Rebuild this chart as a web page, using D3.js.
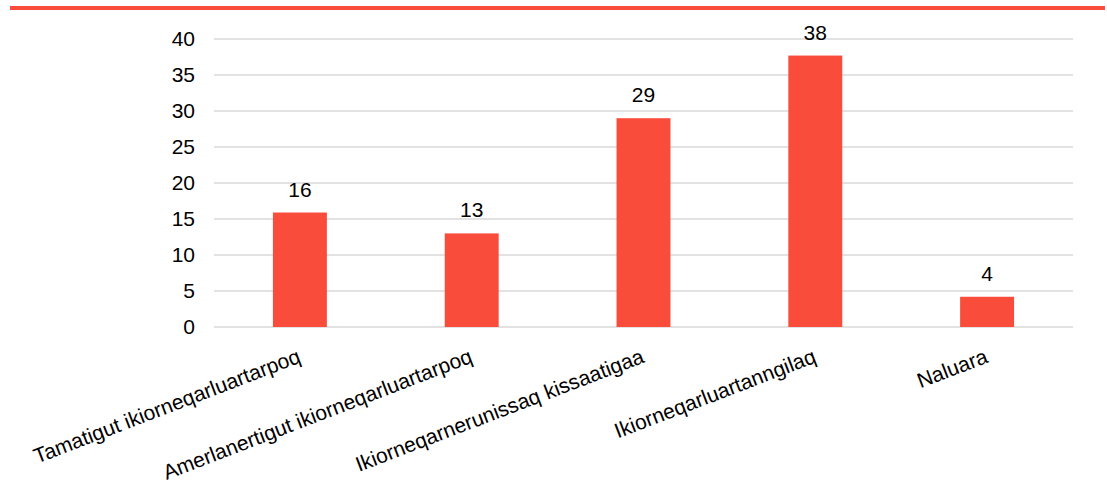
<!DOCTYPE html>
<html>
<head>
<meta charset="utf-8">
<script src="https://cdn.jsdelivr.net/npm/d3@7"></script>
<style>
  html, body { margin: 0; padding: 0; background: #fff; }
  svg { display: block; }
  text { font-family: "Liberation Sans", Arial, sans-serif; fill: #000; }
</style>
</head>
<body>
<svg id="chart" width="1107" height="494"></svg>
<script>
const categories = [
  "Tamatigut ikiorneqarluartarpoq",
  "Amerlanertigut ikiorneqarluartarpoq",
  "Ikiorneqarnerunissaq kissaatigaa",
  "Ikiorneqarluartanngilaq",
  "Naluara"
];
const values = [15.9, 13.0, 29.0, 37.7, 4.2];
const valueLabels = ["16", "13", "29", "38", "4"];
const yTicks = [0, 5, 10, 15, 20, 25, 30, 35, 40];

const svg = d3.select("#chart");
const W = 1107, H = 494;
const margin = { left: 214, right: 34, top: 39, bottom: 167 };
const plotW = W - margin.left - margin.right;
const plotH = H - margin.top - margin.bottom;
const barColor = "#F94C3B";
const fs = 21;

// top accent line
svg.append("rect")
  .attr("x", 10).attr("y", 6).attr("width", 1095).attr("height", 4)
  .attr("fill", barColor);

const g = svg.append("g").attr("transform", `translate(${margin.left},${margin.top})`);

const x = d3.scaleBand().domain(categories).range([0, plotW]).paddingInner(0.686).paddingOuter(0.343);
const y = d3.scaleLinear().domain([0, 40]).range([plotH, 0]);

// gridlines
g.append("g")
  .selectAll("line")
  .data(yTicks)
  .join("line")
  .attr("x1", 0).attr("x2", plotW)
  .attr("y1", d => y(d)).attr("y2", d => y(d))
  .attr("stroke", "#d9d9d9").attr("stroke-width", 1.5);

// y axis labels
const yAxis = d3.axisLeft(y).tickValues(yTicks).tickSize(0).tickPadding(19);
const ya = g.append("g").call(yAxis);
ya.select(".domain").remove();
ya.selectAll("text")
  .attr("font-size", fs)
  .attr("font-family", "Liberation Sans, Arial, sans-serif")
  .attr("fill", "#000");

const data = categories.map((c, i) => ({ c, v: values[i], l: valueLabels[i] }));

// bars
g.append("g")
  .selectAll("rect")
  .data(data)
  .join("rect")
  .attr("x", d => x(d.c))
  .attr("width", x.bandwidth())
  .attr("y", d => y(d.v))
  .attr("height", d => plotH - y(d.v))
  .attr("fill", barColor);

// value labels
g.append("g")
  .selectAll("text")
  .data(data)
  .join("text")
  .attr("x", d => x(d.c) + x.bandwidth() / 2)
  .attr("y", d => y(d.v) - 16)
  .attr("text-anchor", "middle")
  .attr("font-size", fs)
  .text(d => d.l);

// x labels (rotated)
const xAxis = d3.axisBottom(x).tickSize(0).tickPadding(0);
const xa = g.append("g").attr("transform", `translate(0,${plotH})`).call(xAxis);
xa.select(".domain").remove();
xa.selectAll("text")
  .attr("font-size", fs)
  .attr("font-family", "Liberation Sans, Arial, sans-serif")
  .attr("fill", "#000")
  .attr("text-anchor", "end")
  .attr("y", 0)
  .attr("dy", 0)
  .attr("transform", "translate(2,35) rotate(-21)");
</script>
</body>
</html>
